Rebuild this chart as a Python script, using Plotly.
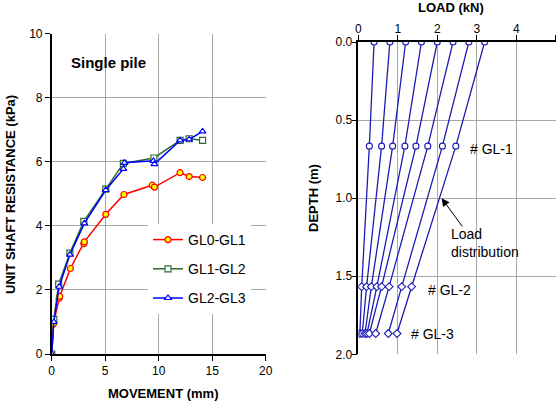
import plotly.graph_objects as go

W, H = 559, 403

# ---- Left chart data: unit shaft resistance vs movement ----
mov_gl0_gl1 = [0, 0.15, 0.70, 0.75, 1.75, 3.00, 3.05, 5.05, 6.75, 9.40, 9.60, 12.0, 12.85, 14.1]
res_gl0_gl1 = [0, 0.93, 1.74, 1.80, 2.67, 3.44, 3.50, 4.36, 4.98, 5.27, 5.21, 5.66, 5.54, 5.51]

mov_gl1_gl2 = [0, 0.20, 0.65, 1.70, 3.00, 5.05, 6.70, 9.55, 12.0, 12.85, 14.1]
res_gl1_gl2 = [0, 1.08, 2.18, 3.15, 4.14, 5.15, 5.95, 6.12, 6.67, 6.72, 6.67]

mov_gl2_gl3 = [0, 0.20, 0.70, 1.70, 3.05, 5.05, 6.70, 6.80, 9.50, 9.60, 12.0, 12.85, 14.1]
res_gl2_gl3 = [0, 1.00, 2.10, 3.10, 4.08, 5.12, 5.78, 5.97, 6.03, 5.93, 6.67, 6.70, 6.95]

# ---- Right chart data: load distribution along the pile ----
depths = [0.0, 0.667, 1.567, 1.867]
depth_labels = ["top", "# GL-1", "# GL-2", "# GL-3"]
load_top = [0.40, 0.80, 1.20, 1.60, 2.00, 2.40, 2.80, 3.20]
load_gl1 = [0.28, 0.59, 0.87, 1.18, 1.46, 1.76, 2.13, 2.47]
load_gl2 = [0.086, 0.21, 0.33, 0.47, 0.59, 0.78, 1.10, 1.35]
load_gl3 = [0.04, 0.10, 0.17, 0.22, 0.28, 0.44, 0.76, 0.98]

FONT = "Liberation Sans, Arial, sans-serif"
GRID = "#a8a8a8"

fig = go.Figure()

fig.add_trace(go.Scatter(
    x=mov_gl0_gl1, y=res_gl0_gl1, mode="lines+markers", name="GL0-GL1",
    line=dict(color="#ff0000", width=1.5),
    marker=dict(symbol="circle", size=6, color="#ffff00", line=dict(color="#ff0000", width=1.2)),
    xaxis="x", yaxis="y", legendgroup="a"))
fig.add_trace(go.Scatter(
    x=mov_gl1_gl2, y=res_gl1_gl2, mode="lines+markers", name="GL1-GL2",
    line=dict(color="#2f6b2f", width=1.5),
    marker=dict(symbol="square", size=6, color="#ffffff", line=dict(color="#2f6b2f", width=1.2)),
    xaxis="x", yaxis="y", legendgroup="b"))
fig.add_trace(go.Scatter(
    x=mov_gl2_gl3, y=res_gl2_gl3, mode="lines+markers", name="GL2-GL3",
    line=dict(color="#0000ff", width=1.5),
    marker=dict(symbol="triangle-up", size=6, color="#ffffff", line=dict(color="#0000ff", width=1.2)),
    xaxis="x", yaxis="y", legendgroup="c"))

symbols = ["circle", "circle", "diamond", "diamond"]
for i in range(len(load_top)):
    xs = [load_top[i], load_gl1[i], load_gl2[i], load_gl3[i]]
    fig.add_trace(go.Scatter(
        x=xs, y=depths, mode="lines+markers", showlegend=False,
        line=dict(color="#1c1cb4", width=1.3),
        marker=dict(symbol=symbols, size=6, color="#ffffff", line=dict(color="#1c1cb4", width=1.1)),
        xaxis="x2", yaxis="y2"))

def px_x(p):
    return p / W

def px_y(p):
    return 1 - p / H

axis_common = dict(
    showgrid=True, gridcolor=GRID, gridwidth=1.2, zeroline=False, automargin=False,
    showline=True, linecolor="#000000", linewidth=1.5,
    ticks="outside", ticklen=5, tickcolor="#000000", tickwidth=1.2,
    tickfont=dict(family=FONT, size=12, color="#000000"),
)

fig.update_layout(
    width=W, height=H, autosize=False,
    margin=dict(l=0, r=0, t=0, b=0, pad=0),
    paper_bgcolor="#ffffff", plot_bgcolor="#ffffff",
    font=dict(family=FONT, size=12, color="#000000"),
    xaxis=dict(domain=[px_x(51.7), px_x(265.7)], range=[0, 20], tickvals=[0, 5, 10, 15, 20],
               anchor="y", **axis_common),
    yaxis=dict(domain=[px_y(354), px_y(33.7)], range=[0, 10], tickvals=[0, 2, 4, 6, 8, 10],
               anchor="x", **axis_common),
    xaxis2=dict(domain=[px_x(358.3), px_x(555.7)], range=[0, 5], tickvals=[0, 1, 2, 3, 4, 5],
                side="top", anchor="y2", ticklabelstandoff=-3, **axis_common),
    yaxis2=dict(domain=[px_y(354.3), px_y(42)], range=[2, 0], tickvals=[0, 0.5, 1.0, 1.5, 2.0],
                tickformat=".1f", anchor="x2", ticklabelstandoff=-3, **axis_common),
    legend=dict(x=px_x(148), y=px_y(224), xanchor="left", yanchor="top",
                bgcolor="#ffffff", borderwidth=0, tracegroupgap=8,
                font=dict(family=FONT, size=14, color="#000000")),
    showlegend=True,
)

ann = []
# axis titles
ann.append(dict(text="<b>UNIT SHAFT RESISTANCE (kPa)</b>", x=px_x(10), y=px_y(195), xref="paper", yref="paper",
                xanchor="center", yanchor="middle", textangle=-90, showarrow=False, font=dict(size=13)))
ann.append(dict(text="<b>MOVEMENT (mm)</b>", x=px_x(163), y=px_y(393), xref="paper", yref="paper",
                xanchor="center", yanchor="middle", showarrow=False, font=dict(size=13)))
ann.append(dict(text="<b>LOAD (kN)</b>", x=px_x(451), y=px_y(8), xref="paper", yref="paper",
                xanchor="center", yanchor="middle", showarrow=False, font=dict(size=13)))
ann.append(dict(text="<b>DEPTH (m)</b>", x=px_x(313), y=px_y(198), xref="paper", yref="paper",
                xanchor="center", yanchor="middle", textangle=-90, showarrow=False, font=dict(size=13)))
ann.append(dict(text="<b>Single pile</b>", x=1.65, y=9.1, xref="x", yref="y", xanchor="left",
                yanchor="middle", showarrow=False, font=dict(size=15)))
# right chart labels
ann.append(dict(text=depth_labels[1], x=2.77, y=0.688, xref="x2", yref="y2", xanchor="left",
                yanchor="middle", showarrow=False, font=dict(size=14)))
ann.append(dict(text=depth_labels[2], x=1.71, y=1.585, xref="x2", yref="y2", xanchor="left",
                yanchor="middle", showarrow=False, font=dict(size=14)))
ann.append(dict(text=depth_labels[3], x=1.29, y=1.87, xref="x2", yref="y2", xanchor="left",
                yanchor="middle", showarrow=False, font=dict(size=14)))
ann.append(dict(text="Load<br>distribution", x=2.3, y=1.29, xref="x2", yref="y2", xanchor="left",
                yanchor="middle", align="left", showarrow=False, font=dict(size=14)))
ann.append(dict(text="", x=2.11, y=1.0, xref="x2", yref="y2", ax=2.66, ay=1.19, axref="x2", ayref="y2",
                showarrow=True, arrowhead=2, arrowsize=1.6, arrowwidth=1, arrowcolor="#000000"))

fig.update_layout(annotations=ann)

fig.write_html("out.html", config={"displayModeBar": False},
               post_script="document.body.style.margin='0';document.body.style.overflow='hidden';")
